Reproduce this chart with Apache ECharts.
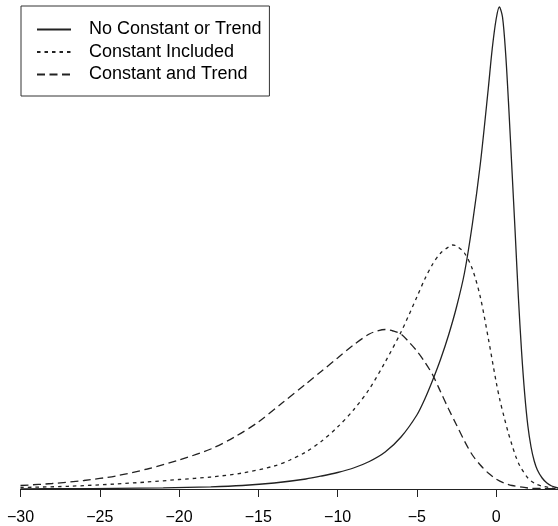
<!DOCTYPE html>
<html>
<head>
<meta charset="utf-8">
<script src="https://cdn.jsdelivr.net/npm/echarts@6/dist/echarts.min.js"></script>
<style>
  html, body { margin: 0; padding: 0; background: #fff; }
  #main { width: 558px; height: 526px; }
</style>
</head>
<body>
<div id="main"></div>
<script>
// 横轴刻度
var tickValues = [-30, -25, -20, -15, -10, -5, 0];

// No Constant or Trend
var noConstX = [-30, -27, -24, -21, -18, -16, -14, -12, -11, -10, -9, -8, -7, -6, -5, -4.5, -4, -3.5, -3, -2.5, -2, -1.5, -1, -0.5, -0.25, 0, 0.2, 0.4, 0.6, 0.8, 1.0, 1.2, 1.4, 1.6, 1.8, 2.0, 2.2, 2.4, 2.6, 2.9, 3.2, 3.5, 3.9];
var noConstY = [0.0001, 0.00015, 0.0003, 0.0006, 0.0011, 0.00175, 0.003, 0.005, 0.0065, 0.00825, 0.0105, 0.01375, 0.0185, 0.026, 0.037, 0.045, 0.0545, 0.065, 0.077, 0.091, 0.108, 0.1325, 0.1625, 0.2, 0.22, 0.235, 0.241, 0.236, 0.2175, 0.19, 0.159, 0.128, 0.096, 0.069, 0.0475, 0.0315, 0.021, 0.014, 0.0095, 0.0055, 0.003, 0.0015, 0.0005];

// Constant Included
var constX = [-30, -27, -24, -22, -20, -18, -16, -14, -13, -12, -11, -10, -9, -8, -7, -6, -5, -4.5, -4, -3.5, -3, -2.75, -2.5, -2, -1.5, -1, -0.5, 0, 0.25, 0.5, 0.75, 1.0, 1.25, 1.5, 2, 2.5, 3, 3.5, 3.9];
var constY = [0.00075, 0.00135, 0.0025, 0.0035, 0.00475, 0.006, 0.008, 0.0115, 0.0145, 0.0185, 0.024, 0.031, 0.0395, 0.05, 0.0635, 0.0785, 0.096, 0.105, 0.1125, 0.118, 0.121, 0.122, 0.1215, 0.118, 0.11, 0.096, 0.0755, 0.0535, 0.044, 0.036, 0.0285, 0.022, 0.016, 0.0115, 0.0055, 0.0025, 0.00125, 0.0005, 0.00025];

// Constant and Trend
var trendX = [-30, -28, -26, -24, -22, -20, -18, -16.5, -15, -13.5, -12, -11, -10, -9, -8, -7.5, -7, -6.5, -6, -5.5, -5, -4.5, -4, -3.5, -3, -2.5, -2, -1.5, -1, -0.5, 0, 0.5, 1, 2, 3, 3.9];
var trendY = [0.00175, 0.00275, 0.00425, 0.0065, 0.01, 0.0145, 0.02, 0.026, 0.0335, 0.043, 0.0525, 0.059, 0.0655, 0.072, 0.0775, 0.079, 0.07975, 0.079, 0.0775, 0.0735, 0.069, 0.0635, 0.057, 0.0485, 0.04, 0.032, 0.024, 0.017, 0.012, 0.008, 0.005, 0.003, 0.00175, 0.0005, 0.0002, 0.0001];

var seriesNames = ['No Constant or Trend', 'Constant Included', 'Constant and Trend'];

/*把x、y两个数组拼成点*/
function toPoints(xs, ys){
  var pts = [];
  for(var i=0;i<xs.length;i++){
    pts.push([xs[i], ys[i]]);
  }
  return pts;
}

/*生成一条曲线*/
function makeLine(name, xs, ys, dash){
  return {
    name: name,
    type: 'line',
    data: toPoints(xs, ys),
    smooth: 0.3,
    symbol: 'none',
    silent: true,
    itemStyle: { color: '#222' },
    lineStyle: { color: '#222', width: 1.3, type: dash }
  };
}

var chart = echarts.init(document.getElementById('main'));
var option = {
  animation: false,
  backgroundColor: '#fff',
  grid: { left: 20.5, right: 0, top: 0, bottom: 37, containLabel: false },
  legend: {
    data: seriesNames,
    orient: 'vertical',
    left: 21,
    top: 6,
    padding: [14.5, 8, 12.5, 15],
    itemWidth: 34,
    itemHeight: 14,
    itemGap: 4.5,
    borderColor: '#333',
    borderWidth: 1,
    backgroundColor: '#fff',
    selectedMode: false,
    itemStyle: { opacity: 0 },   // 图例里不要圆点
    textStyle: { color: '#000', fontSize: 18, fontFamily: 'Liberation Sans', lineHeight: 18, padding: [0, 0, 0, 13] }
  },
  xAxis: {
    type: 'value',
    min: -30,
    max: 3.9,
    interval: 5,
    splitLine: { show: false },
    axisLine: { show: true, onZero: false, lineStyle: { color: '#222', width: 1 } },
    axisTick: { show: true, length: 8, customValues: tickValues, lineStyle: { color: '#222', width: 1 } },
    axisLabel: {
      customValues: tickValues,
      margin: 21,
      color: '#000',
      fontSize: 16,
      fontFamily: 'Liberation Sans',
      formatter: function(v){ return v < 0 ? '\u2212' + Math.abs(v) : String(v); }
    }
  },
  yAxis: {
    type: 'value',
    min: 0,
    max: 0.2445,
    show: false,
    splitLine: { show: false }
  },
  series: [
    makeLine(seriesNames[0], noConstX, noConstY, 'solid'),
    makeLine(seriesNames[1], constX, constY, [3.5, 4]),
    makeLine(seriesNames[2], trendX, trendY, [8, 4.5])
  ]
};
chart.setOption(option);
</script>
</body>
</html>
